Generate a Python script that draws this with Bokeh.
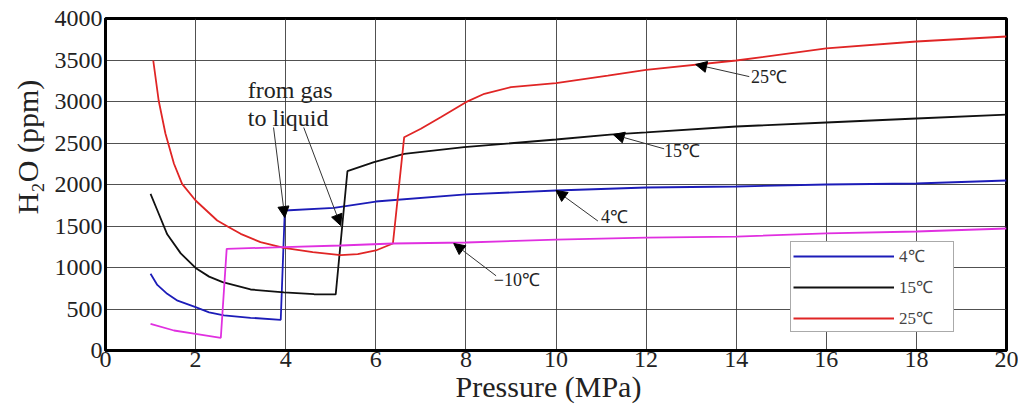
import math
from bokeh.plotting import figure
from bokeh.models import Range1d, Legend, LegendItem, Arrow, NormalHead, Label
from bokeh.embed import file_html
from bokeh.resources import INLINE

# ---------------- data ----------------
p_4 = [1.0, 1.15, 1.37, 1.6, 2.0, 2.3, 2.63, 3.22, 3.89, 3.98, 5.07, 6.0, 8.0, 10.0, 12.0, 14.0, 16.0, 18.0, 20.0]
h2o_4 = [924, 790, 683, 600, 522, 460, 422, 394, 370, 1687, 1719, 1795, 1880, 1928, 1964, 1976, 2000, 2012, 2048]

p_15 = [1.0, 1.15, 1.37, 1.67, 2.0, 2.3, 2.6, 3.22, 3.96, 4.63, 5.11, 5.37, 5.96, 6.63, 7.96, 10.0, 11.2, 12.0, 14.0, 16.0, 18.0, 20.0]
h2o_15 = [1888, 1690, 1400, 1170, 995, 890, 823, 735, 700, 678, 675, 2160, 2269, 2370, 2450, 2542, 2600, 2627, 2699, 2747, 2795, 2843]

p_25 = [1.06, 1.18, 1.33, 1.52, 1.70, 2.0, 2.48, 2.74, 3.0, 3.44, 3.96, 4.6, 5.22, 5.6, 6.0, 6.38, 6.63, 7.0, 7.44, 8.0, 8.41, 9.0, 10.0, 11.15, 12.0, 14.0, 16.0, 18.0, 20.0]
h2o_25 = [3494, 3012, 2615, 2250, 2008, 1807, 1566, 1486, 1406, 1305, 1237, 1185, 1150, 1160, 1205, 1289, 2570, 2671, 2811, 2992, 3093, 3173, 3221, 3313, 3382, 3494, 3639, 3723, 3783]

p_m10 = [1.0, 1.52, 2.0, 2.56, 2.69, 3.96, 5.22, 6.38, 8.0, 10.0, 12.0, 14.0, 16.0, 18.0, 20.0]
h2o_m10 = [321, 241, 201, 153, 1225, 1245, 1265, 1289, 1301, 1337, 1361, 1373, 1410, 1434, 1470]

x_ticks = [0, 2, 4, 6, 8, 10, 12, 14, 16, 18, 20]
y_ticks = [0, 500, 1000, 1500, 2000, 2500, 3000, 3500, 4000]

legend_labels = ["4℃", "15℃", "25℃"]
x_title = "Pressure (MPa)"
y_title = "H₂O (ppm)"

SERIF = "Liberation Serif"

p = figure(width=1018, height=411, output_backend="svg", toolbar_location=None,
           x_range=Range1d(0, 20), y_range=Range1d(0, 4000),
           min_border_left=105, min_border_right=12, min_border_top=18, min_border_bottom=61,
           background_fill_color="white", border_fill_color="white")

p.outline_line_color = "black"
p.outline_line_width = 3
p.grid.grid_line_color = "#333333"
p.grid.grid_line_alpha = 0.85
p.grid.grid_line_width = 1

p.xaxis.ticker = x_ticks
p.yaxis.ticker = y_ticks
for ax in (p.xaxis, p.yaxis):
    ax.axis_line_color = "black"
    ax.axis_line_width = 3
    ax.major_tick_line_color = None
    ax.minor_tick_line_color = None
    ax.major_tick_out = 0
    ax.major_tick_in = 0
    ax.minor_tick_out = 0
    ax.minor_tick_in = 0
    ax.major_label_text_font = SERIF
    ax.major_label_text_font_size = "24px"
    ax.major_label_text_color = "#222222"
    ax.axis_label_text_font = SERIF
    ax.axis_label_text_font_style = "normal"
    ax.axis_label_text_color = "#222222"
p.xaxis.major_label_standoff = 1
p.yaxis.major_label_standoff = 3

p.xaxis.axis_label = x_title + "\u2002"
p.xaxis.axis_label_text_font_size = "30px"
p.xaxis.axis_label_standoff = 0
p.yaxis.axis_label = "\u2003\u2003\u2002" + y_title
p.yaxis.axis_label_text_font_size = "30px"
p.yaxis.axis_label_standoff = 8

r4 = p.line(p_4, h2o_4, line_color="#1c1cb8", line_width=1.8)
r15 = p.line(p_15, h2o_15, line_color="#111111", line_width=1.8)
r25 = p.line(p_25, h2o_25, line_color="#e02525", line_width=1.8)
rm10 = p.line(p_m10, h2o_m10, line_color="#e030e0", line_width=1.8)

legend = Legend(items=[LegendItem(label=legend_labels[0], renderers=[r4]),
                       LegendItem(label=legend_labels[1], renderers=[r15]),
                       LegendItem(label=legend_labels[2], renderers=[r25])],
                location=(685, 18), padding=2, spacing=8, margin=0,
                glyph_width=101, glyph_height=16, label_standoff=5, label_width=52,
                label_text_font=SERIF, label_text_font_size="17px",
                border_line_color="#555555", border_line_width=1,
                background_fill_color="white", background_fill_alpha=1.0)
p.add_layout(legend)

# annotations: arrows and texts
def arrow(xs, ys, xe, ye):
    p.add_layout(Arrow(end=NormalHead(size=11, fill_color="black", line_color="black", line_width=1),
                       x_start=xs, y_start=ys, x_end=xe, y_end=ye,
                       line_color="#333333", line_width=1))

arrow(3.73, 2687, 3.98, 1602)
arrow(4.40, 2687, 5.22, 1506)
arrow(14.29, 3300, 13.1, 3446)
arrow(12.40, 2430, 11.27, 2602)
arrow(10.93, 1560, 10.0, 1928)
arrow(8.67, 900, 7.73, 1289)

def text(x, y, s, size="18px", align="left", baseline="middle"):
    p.add_layout(Label(x=x, y=y, text=s, text_font=SERIF, text_font_size=size,
                       text_color="#222222", text_align=align, text_baseline=baseline))

text(3.16, 3133, "from gas", size="24px", baseline="alphabetic")
text(3.16, 2807, "to liquid", size="24px", baseline="alphabetic")
text(14.33, 3290, "25℃")
text(12.40, 2398, "15℃")
text(11.00, 1603, "4℃")
text(8.62, 855, "−10℃")

open("out.html", "w").write(file_html(p, INLINE))
